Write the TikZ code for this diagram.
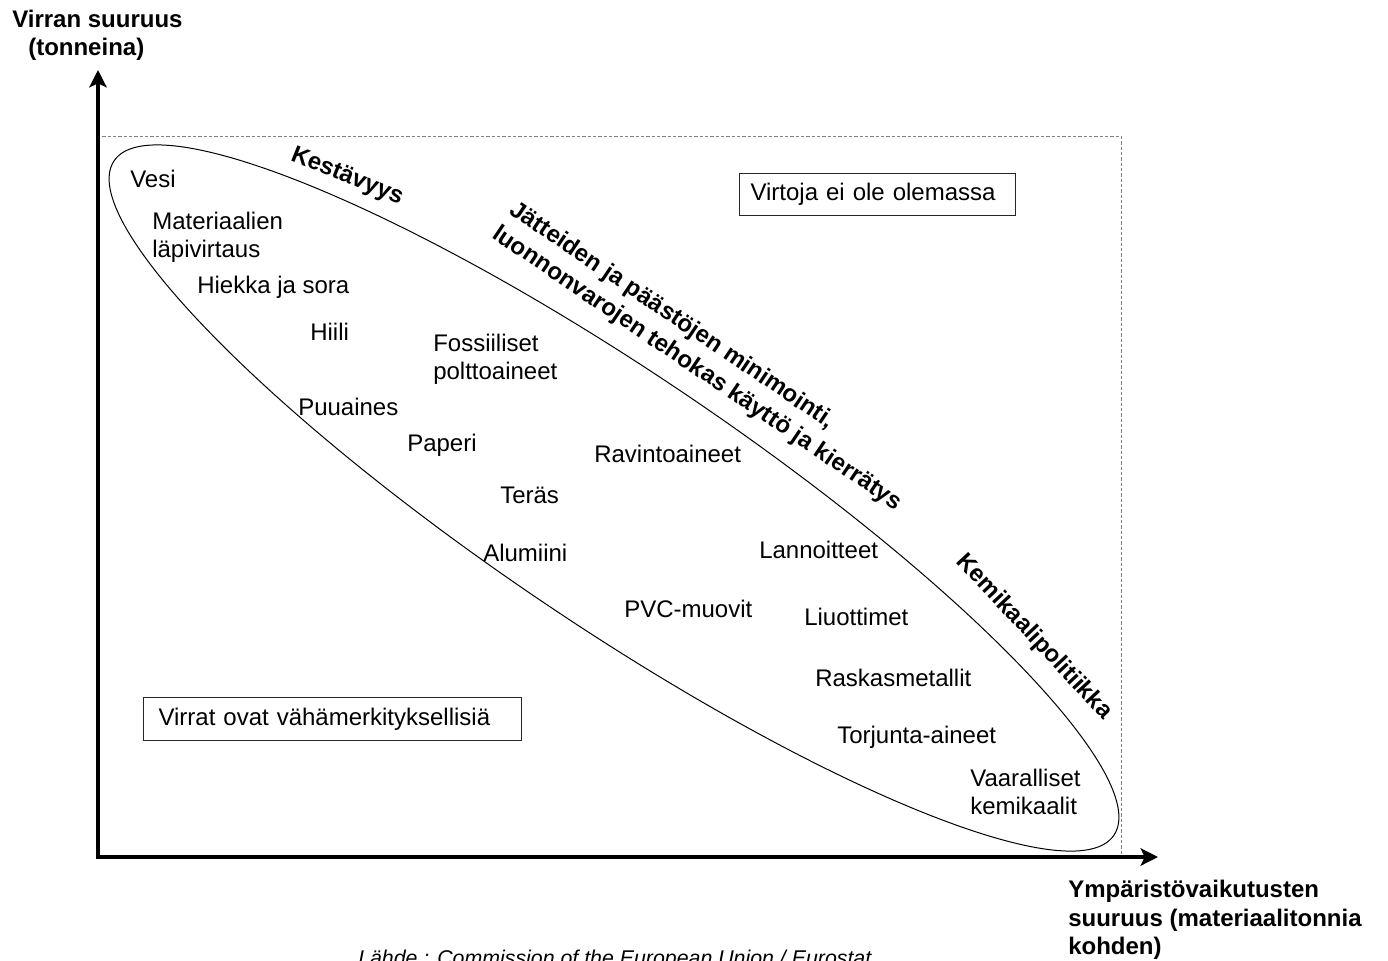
\documentclass[tikz,border=0pt]{standalone}
\usepackage{fontspec}
\setmainfont{Liberation Sans}
\usetikzlibrary{arrows.meta}
\begin{document}
\begin{tikzpicture}[x=0.75pt,y=-0.75pt,
  lbl/.style={font=\fontsize{18}{21}\selectfont, inner sep=0pt, anchor=base west},
  mlbl/.style={font=\fontsize{18}{21}\selectfont, inner sep=0pt, anchor=west, align=left},
  blbl/.style={font=\bfseries\fontsize{18}{21}\selectfont, inner sep=0pt},
  boxnode/.style={draw=black!85, line width=0.8pt, font=\fontsize{18}{21}\selectfont, anchor=north west, align=left, inner ysep=0pt},
  axis/.style={line width=3.3pt, line join=miter, {Stealth[length=13pt,width=13pt,inset=3pt]}-{Stealth[length=13pt,width=13pt,inset=3pt]}},
  frame/.style={draw=black!50, line width=0.75pt, dash pattern=on 2.5pt off 1.5pt},
  oval/.style={draw=black, line width=0.75pt}
]
\useasboundingbox (0,0) rectangle (1388,960);

% coordinates
\coordinate (O) at (98,857);
\coordinate (Ytop) at (98,70);
\coordinate (Xend) at (1158,857);
\coordinate (R) at (1121,136);
\coordinate (C) at (614,498);

% dashed frame
\draw[frame] (O) rectangle (R);

% ellipse
\draw[oval, rotate around={-34:(C)}] (C) ellipse [x radius=452.25pt, y radius=94.5pt];

% axes
\draw[axis] (Ytop) -- (O) -- (Xend);

% axis labels
\node[blbl, anchor=base west] (yl1) at (12,27) {Virran suuruus};
\node[blbl, anchor=base west] (yl2) at (28,55) {(tonneina)};
\node[blbl, anchor=base west] (xl1) at (1068,897) {Ympäristövaikutusten};
\node[blbl, anchor=base west] (xl2) at (1068,926) {suuruus (materiaalitonnia};
\node[blbl, anchor=base west] (xl3) at (1068,954) {kohden)};

% items
\node[lbl] (vesi) at (130,187) {Vesi};
\node[mlbl] (mat) at (152,237) {Materiaalien\\läpivirtaus};
\node[lbl] (hiekka) at (197,293) {Hiekka ja sora};
\node[lbl] (hiili) at (310,340) {Hiili};
\node[mlbl] (foss) at (433,359) {Fossiiliset\\polttoaineet};
\node[lbl] (puu) at (298,415) {Puuaines};
\node[lbl] (paperi) at (407,451) {Paperi};
\node[lbl] (ravinto) at (594,462) {Ravintoaineet};
\node[lbl] (teras) at (500,503) {Teräs};
\node[lbl] (alu) at (483,561) {Alumiini};
\node[lbl] (lannoit) at (759,558) {Lannoitteet};
\node[lbl] (pvc) at (624,617) {PVC-muovit};
\node[lbl] (liuot) at (804,625) {Liuottimet};
\node[lbl] (raskas) at (815,686) {Raskasmetallit};
\node[lbl] (torjunta) at (837,743) {Torjunta-aineet};
\node[mlbl] (vaaral) at (970,792) {Vaaralliset\\kemikaalit};

% boxes
\node[boxnode, minimum width=207pt, minimum height=31.5pt, inner xsep=8.25pt, text width=190.5pt] (eiole) at (739,173) {Virtoja ei ole olemassa};
\node[boxnode, minimum width=283.5pt, minimum height=32.25pt, inner xsep=11.25pt, text width=261pt] (vahamerk) at (143,697) {Virrat ovat vähämerkityksellisiä};

% rotated bold labels
\node[blbl, rotate=-22] (kest) at (347,177) {Kestävyys};
\node[blbl, rotate=-34] (jatt1) at (672,316) {Jätteiden ja päästöjen minimointi,};
\node[blbl, rotate=-34] (jatt2) at (697,369) {luonnonvarojen tehokas käyttö ja kierrätys};
\node[blbl, rotate=-47] (kemik) at (1034,637) {Kemikaalipolitiikka};

% source
\node[font=\itshape\fontsize{16}{19}\selectfont, inner sep=0pt, anchor=base west] (lahde) at (358,965) {Lähde : Commission of the European Union / Eurostat};
\end{tikzpicture}
\end{document}
